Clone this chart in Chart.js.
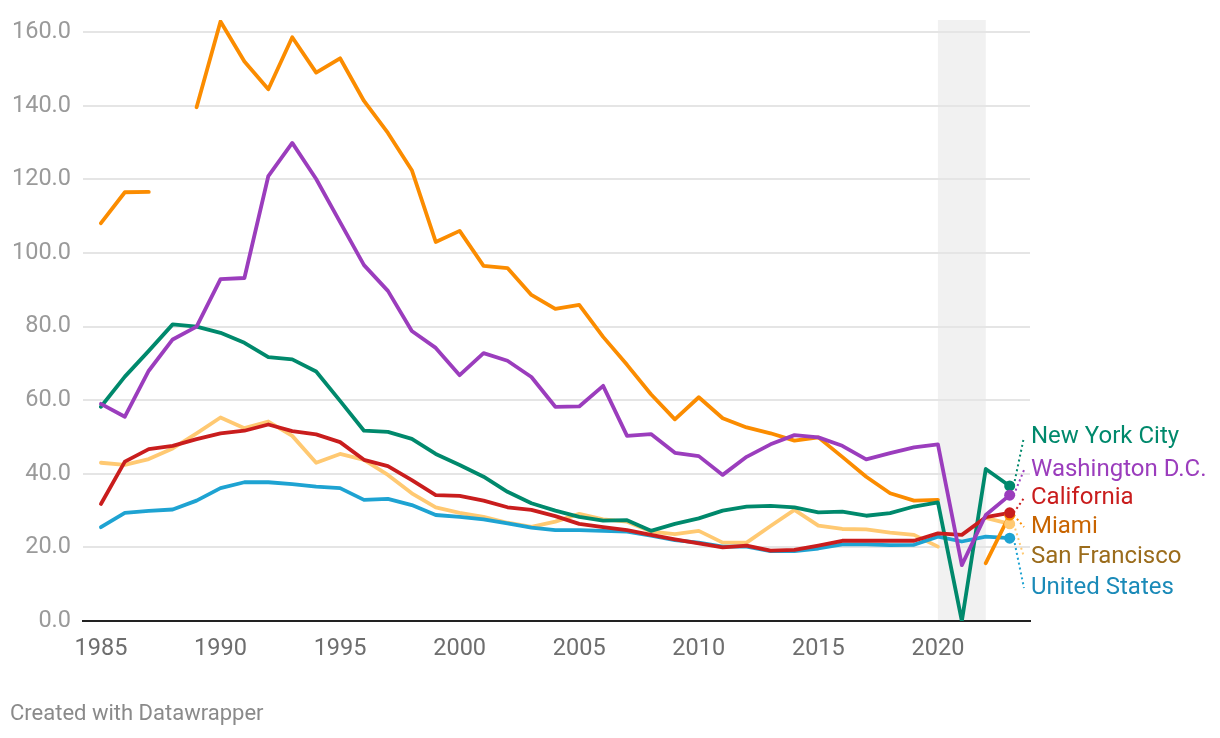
<!DOCTYPE html>
<html>
<head>
<meta charset="utf-8">
<script src="https://cdn.jsdelivr.net/npm/chart.js@4"></script>
<style>
  html, body { margin: 0; padding: 0; background: #fff; }
  #wrap { width: 1220px; height: 738px; position: relative; }
</style>
</head>
<body>
<div id="wrap"><canvas id="myChart" width="1220" height="738"></canvas></div>
<script>
const years = [];
for (let y = 1985; y <= 2023; y++) years.push(y);

const xTickYears = [1985, 1990, 1995, 2000, 2005, 2010, 2015, 2020];
const yTickValues = [0, 20, 40, 60, 80, 100, 120, 140, 160];

const newYorkCity = [58.2, 66.4, 73.4, 80.6, 80.0, 78.3, 75.6, 71.7, 71.1, 67.8,
  59.8, 51.7, 51.4, 49.5, 45.4, 42.4, 39.2, 35.1, 32.0, 30.0,
  28.3, 27.3, 27.4, 24.5, 26.4, 27.9, 30.0, 31.1, 31.3, 30.9,
  29.5, 29.7, 28.6, 29.3, 31.1, 32.2, 0, 41.3, 36.7];

const washingtonDC = [59.0, 55.5, 68.0, 76.5, 80.0, 92.9, 93.2, 120.9, 129.9, 120.1,
  108.4, 96.7, 89.7, 78.8, 74.2, 66.8, 72.8, 70.7, 66.3, 58.2,
  58.3, 63.9, 50.3, 50.8, 45.7, 44.8, 39.7, 44.6, 48.0, 50.5,
  49.9, 47.6, 43.9, 45.6, 47.2, 48.0, 15.2, 28.8, 34.2];

const california = [31.8, 43.3, 46.7, 47.6, 49.4, 51.0, 51.7, 53.4, 51.6, 50.7,
  48.6, 43.8, 42.1, 38.3, 34.2, 34.0, 32.7, 30.9, 30.2, 28.5,
  26.4, 25.5, 24.7, 23.4, 22.2, 21.1, 20.0, 20.5, 19.1, 19.3,
  20.5, 21.8, 21.8, 21.8, 21.8, 23.8, 23.4, 28.2, 29.4];

const miami = [108.1, 116.5, 116.6, null, 139.6, 162.9, 152.0, 144.5, 158.6, 149.0,
  152.9, 141.3, 132.6, 122.5, 103.0, 106.0, 96.5, 95.9, 88.6, 84.8,
  85.9, 77.2, 69.6, 61.6, 54.8, 60.8, 55.1, 52.6, 51.0, 49.0,
  49.9, 44.6, 39.2, 34.7, 32.7, 32.9, null, 15.7, 28.8];

const sanFrancisco = [43.0, 42.4, 44.0, 46.9, 51.0, 55.3, 52.4, 54.2, 50.3, 43.0,
  45.4, 43.8, 39.7, 34.7, 30.9, 29.4, 28.3, 26.7, 25.6, 27.0,
  29.1, 27.6, 27.0, 24.3, 23.6, 24.5, 21.3, 21.3, 25.8, 30.2,
  25.9, 25.0, 24.9, 24.0, 23.4, 20.2, null, 28.0, 26.4];

const unitedStates = [25.5, 29.4, 29.9, 30.3, 32.7, 36.1, 37.7, 37.7, 37.2, 36.5,
  36.1, 32.9, 33.2, 31.5, 28.8, 28.3, 27.6, 26.5, 25.4, 24.7,
  24.7, 24.5, 24.3, 23.2, 22.0, 21.3, 20.2, 20.2, 19.0, 19.0,
  19.7, 20.8, 20.8, 20.6, 20.7, 22.9, 21.6, 22.9, 22.5];

// shaded band years
const bandStart = 2020;
const bandEnd = 2022;

// drawn top-first (index 0 ends up on top)
const series = [
  { name: 'Washington D.C.', values: washingtonDC, line: '#9b3dbd', text: '#9b3dbd', labelY: 470 },
  { name: 'California', values: california, line: '#c91d1d', text: '#c91d1d', labelY: 498 },
  { name: 'New York City', values: newYorkCity, line: '#00896c', text: '#00896c', labelY: 437 },
  { name: 'Miami', values: miami, line: '#fb8c00', text: '#c86400', labelY: 527 },
  { name: 'United States', values: unitedStates, line: '#1ea3d2', text: '#1a8ab8', labelY: 588 },
  { name: 'San Francisco', values: sanFrancisco, line: '#ffc972', text: '#9b6c1c', labelY: 557 }
];

const bandPlugin = {
  id: 'band',
  beforeDraw(chart) {
    const { ctx, chartArea, scales } = chart;
    const x1 = scales.x.getPixelForValue(bandStart);
    const x2 = scales.x.getPixelForValue(bandEnd);
    ctx.save();
    ctx.fillStyle = '#f1f1f1';
    ctx.fillRect(x1, chartArea.top, x2 - x1, chartArea.bottom - chartArea.top);
    ctx.restore();
  }
};

const labelPlugin = {
  id: 'endLabels',
  afterDatasetsDraw(chart) {
    const ctx = chart.ctx;
    ctx.save();
    chart.data.datasets.forEach((ds, i) => {
      const meta = chart.getDatasetMeta(i);
      const pt = meta.data[meta.data.length - 1];
      const s = series[i];
      ctx.strokeStyle = s.line;
      ctx.lineWidth = 2;
      ctx.setLineDash([2, 3]);
      ctx.beginPath();
      ctx.moveTo(pt.x + 4, pt.y);
      ctx.lineTo(1024, s.labelY);
      ctx.stroke();
      ctx.setLineDash([]);
      ctx.fillStyle = s.text;
      ctx.font = '24px Roboto';
      ctx.textBaseline = 'middle';
      ctx.textAlign = 'left';
      ctx.fillText(s.name, 1031, s.labelY);
    });
    // end dots on top
    for (let i = chart.data.datasets.length - 1; i >= 0; i--) {
      const meta = chart.getDatasetMeta(i);
      const pt = meta.data[meta.data.length - 1];
      ctx.fillStyle = series[i].line;
      ctx.beginPath();
      ctx.arc(pt.x, pt.y, 5.5, 0, Math.PI * 2);
      ctx.fill();
    }
    ctx.fillStyle = '#8a8a8a';
    ctx.font = '22px Roboto';
    ctx.textBaseline = 'middle';
    ctx.fillText('Created with Datawrapper', 10, 714);
    ctx.restore();
  }
};

new Chart(document.getElementById('myChart'), {
  type: 'line',
  data: {
    datasets: series.map(s => ({
      label: s.name,
      data: years.map((yr, i) => ({ x: yr, y: s.values[i] })),
      borderColor: s.line,
      backgroundColor: s.line,
      borderWidth: 3.8,
      pointRadius: 0,
      tension: 0,
      spanGaps: false,
      borderJoinStyle: 'round',
      borderCapStyle: 'round'
    }))
  },
  options: {
    responsive: false,
    animation: false,
    layout: { padding: { left: 0, right: 190, top: 20, bottom: 0 } },
    plugins: {
      legend: { display: false },
      tooltip: { enabled: false }
    },
    scales: {
      x: {
        type: 'linear',
        min: 1984.25,
        max: 2023.85,
        afterBuildTicks: axis => { axis.ticks = xTickYears.map(v => ({ value: v })); },
        afterFit: scale => { scale.height = 117; },
        grid: { display: false, drawTicks: false },
        border: { display: true, color: '#222', width: 2 },
        ticks: {
          padding: 14,
          color: '#6e6e6e',
          font: { family: 'Roboto', size: 23.5 },
          maxRotation: 0,
          callback: v => String(v)
        }
      },
      y: {
        min: 0,
        max: 163.3,
        afterBuildTicks: axis => { axis.ticks = yTickValues.map(v => ({ value: v })); },
        afterFit: scale => {
          scale.width = 83;
          scale.paddingTop = 0;
          scale.paddingBottom = 0;
        },
        grid: {
          drawTicks: false,
          color: ctx => ctx.tick && ctx.tick.value === 0 ? 'rgba(0,0,0,0)' : '#e5e5e5',
          lineWidth: 2
        },
        border: { display: false },
        ticks: {
          padding: 12,
          color: '#9a9a9a',
          font: { family: 'Roboto', size: 23.5 },
          callback: v => v.toFixed(1)
        }
      }
    }
  },
  plugins: [bandPlugin, labelPlugin]
});
</script>
</body>
</html>
